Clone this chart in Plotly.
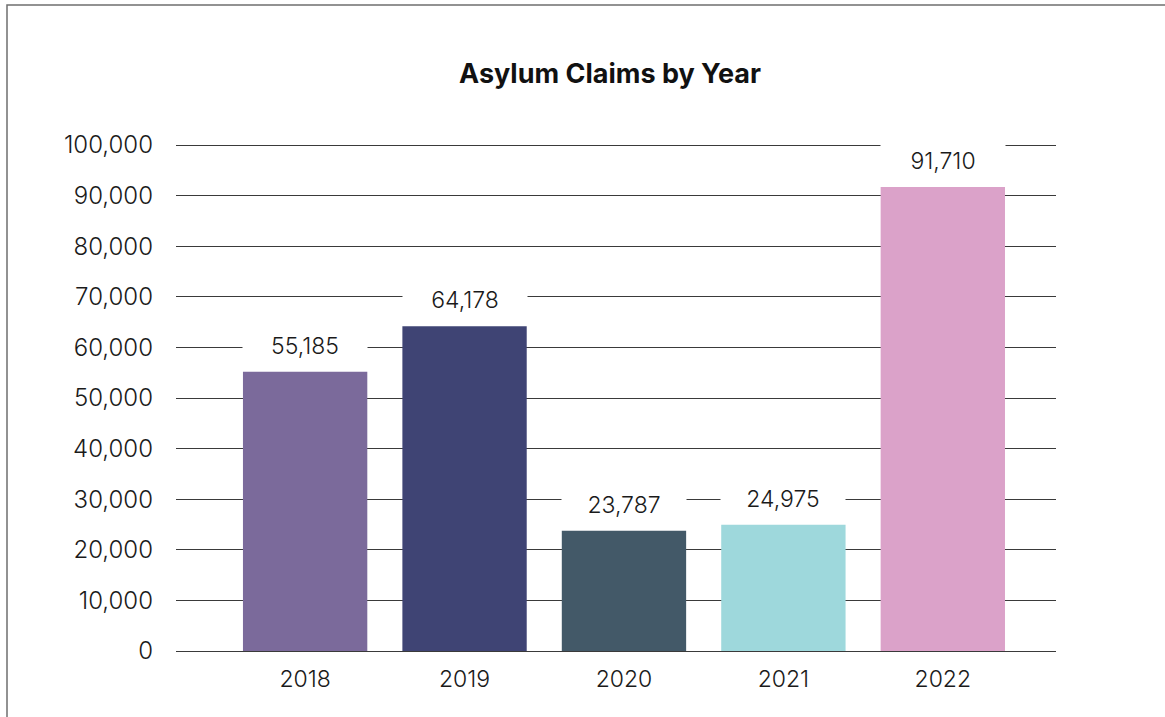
import plotly.graph_objects as go

years = ["2018", "2019", "2020", "2021", "2022"]
claims = [55185, 64178, 23787, 24975, 91710]
bar_colors = ["#7B6A9B", "#3F4474", "#435968", "#9ED8DC", "#DBA2C9"]
y_tick_vals = [0, 10000, 20000, 30000, 40000, 50000, 60000, 70000, 80000, 90000, 100000]
y_tick_text = ["0", "10,000", "20,000", "30,000", "40,000", "50,000", "60,000",
               "70,000", "80,000", "90,000", "100,000"]
title_text = "Asylum Claims by Year"

W, H = 1165, 717
L, R, T, B = 176, 109, 144, 66
FONT = "Inter"

fig = go.Figure()
fig.add_trace(go.Bar(
    x=years, y=claims, marker=dict(color=bar_colors, line=dict(width=0)),
    width=0.78, hoverinfo="skip",
))

for i, v in enumerate(claims):
    fig.add_annotation(
        x=i, y=v, xref="x", yref="y", text=f"{v:,}",
        showarrow=False, yanchor="middle", yshift=26,
        bgcolor="white", width=124, height=36, borderpad=0,
        font=dict(family=FONT, size=23, color="#1a1a1a", weight=300),
    )

# outer border
plot_w = W - L - R
plot_h = H - T - B
fig.add_shape(
    type="rect", xref="paper", yref="paper",
    x0=(7 - L) / plot_w, x1=(W + 20 - L) / plot_w,
    y0=-(B + 20) / plot_h, y1=(plot_h + T - 5) / plot_h,
    line=dict(color="#6f6f6f", width=1.5), fillcolor="rgba(0,0,0,0)", layer="below",
)

fig.update_layout(
    width=W, height=H,
    margin=dict(l=L, r=R, t=T, b=B, pad=0),
    paper_bgcolor="white", plot_bgcolor="white",
    showlegend=False,
    title=dict(text=f"<b>{title_text}</b>", x=610 / W, xanchor="center",
               y=1 - 74 / H, yanchor="middle",
               font=dict(family=FONT, size=27, color="#111111")),
    xaxis=dict(type="category", range=[-0.81, 4.71], showgrid=False,
               showline=False, zeroline=False, ticks="",
               ticklabelstandoff=12,
               tickfont=dict(family=FONT, size=23, color="#1a1a1a", weight=300)),
    yaxis=dict(range=[0, 100200], tickvals=y_tick_vals, ticktext=y_tick_text,
               showgrid=True, gridcolor="#3a3a3a", gridwidth=1,
               zeroline=True, zerolinecolor="#3a3a3a", zerolinewidth=1,
               showline=False, ticks="", ticklabelstandoff=22,
               tickfont=dict(family=FONT, size=24, color="#1a1a1a", weight=300)),
)

fig.write_html("out.html")
